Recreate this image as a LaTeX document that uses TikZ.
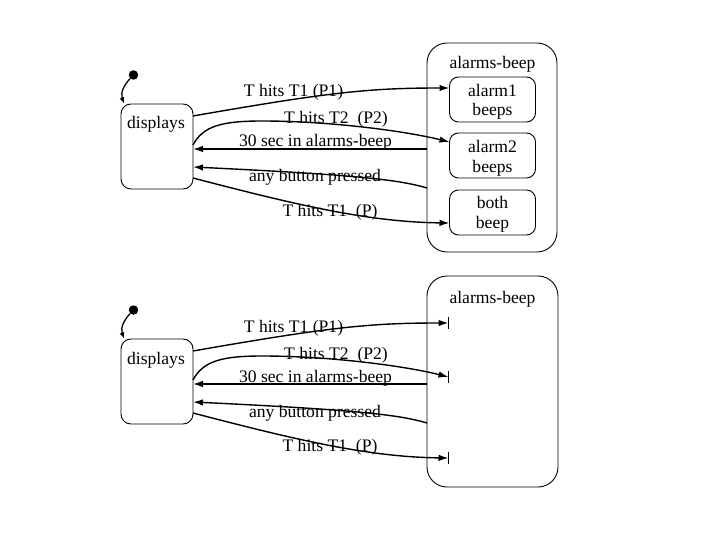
\documentclass[tikz,border=0pt]{standalone}
\usepackage{fontspec}
\setmainfont{Liberation Serif}
\usetikzlibrary{arrows.meta}
\begin{document}
\begin{tikzpicture}[x=1pt,y=-1pt,
  lbl/.style={font=\fontsize{17.6}{20}\selectfont, anchor=base, inner sep=0pt},
  sbox/.style={draw, line width=0.9pt, rounded corners=10pt, inner sep=0pt},
  obox/.style={draw, line width=0.9pt, rounded corners=20pt, inner sep=0pt},
  ibox/.style={draw, line width=0.9pt, rounded corners=9pt, inner sep=0pt, minimum width=86pt, minimum height=45pt},
  conn/.style={line width=1.4pt, -{Latex[length=10pt,width=6.5pt]}},
  stub/.style={line width=1pt},
  initarr/.style={line width=1.3pt, -{Latex[length=6pt,width=5pt]}},
  initdot/.style={circle, fill, inner sep=0pt, minimum size=9.5pt}]

\useasboundingbox (0,0) rectangle (720,540);

% ================= TOP =================
\node[sbox, minimum width=72pt, minimum height=85pt] (d1) at (157,146.5) {};
\node[lbl] (d1t) at (156,129) {displays};
\node[initdot] (i1) at (133.5,75) {};
\coordinate (i1e) at (124,103.5);
\draw[initarr] (i1) .. controls (125,84) and (120,92) .. (i1e);

\node[obox, minimum width=130pt, minimum height=209pt] (o1) at (492,147.5) {};
\node[lbl] (o1t) at (492.5,69) {alarms-beep};
\node[ibox] (a1) at (492.5,99.5) {};
\node[lbl] (a1t) at (492.5,97) {alarm1};
\node[lbl] (a1u) at (492.5,116) {beeps};
\node[ibox] (a2) at (492.5,155.5) {};
\node[lbl] (a2t) at (492.5,153) {alarm2};
\node[lbl] (a2u) at (492.5,173) {beeps};
\node[ibox] (a3) at (492.5,212.5) {};
\node[lbl] (a3t) at (492.5,208) {both};
\node[lbl] (a3u) at (492.5,229) {beep};

\coordinate (p1s) at (193,116);   \coordinate (p1e) at (449.5,88);
\coordinate (p2s) at (193,145);   \coordinate (p2m) at (262,121);  \coordinate (p2e) at (449.5,142);
\coordinate (p3s) at (427,149);   \coordinate (p3e) at (193,149);
\coordinate (p4s) at (427,188);   \coordinate (p4e) at (193,167);
\coordinate (p5s) at (193,178);   \coordinate (p5e) at (449.5,223);

\draw[conn] (p1s) .. controls (330,92) and (370,88) .. (p1e);
\draw[conn] (p2s) .. controls (203,126) and (222,121) .. (p2m) .. controls (330,121) and (405,131) .. (p2e);
\draw[conn] (p3s) -- (p3e);
\draw[conn] (p4s) .. controls (400,180) and (360,175) .. (p4e);
\draw[conn] (p5s) .. controls (300,206) and (370,222) .. (p5e);

\node[lbl] (l1) at (293.5,97) {T hits T1 (P1)};
\node[lbl] (l2) at (336,124) {T hits T2\ \ (P2)};
\node[lbl] (l3) at (315.5,147) {30 sec in alarms-beep};
\node[lbl] (l4) at (315,182) {any button pressed};
\node[lbl] (l5) at (330,216) {T hits T1\ \ (P)};

% ================= BOTTOM =================
\node[sbox, minimum width=72pt, minimum height=85pt] (d2) at (157,381.5) {};
\node[lbl] (d2t) at (156,364) {displays};
\node[initdot] (i2) at (133.5,310) {};
\coordinate (i2e) at (124,338.5);
\draw[initarr] (i2) .. controls (125,319) and (120,327) .. (i2e);

\node[obox, minimum width=131pt, minimum height=211pt] (o2) at (492.5,381.5) {};
\node[lbl] (o2t) at (492.5,303) {alarms-beep};

\coordinate (q1s) at (193,351);   \coordinate (q1e) at (448.5,323);
\coordinate (q2s) at (193,380);   \coordinate (q2m) at (262,356);  \coordinate (q2e) at (448.5,377);
\coordinate (q3s) at (427,384);   \coordinate (q3e) at (193,384);
\coordinate (q4s) at (427,423);   \coordinate (q4e) at (193,402);
\coordinate (q5s) at (193,413);   \coordinate (q5e) at (448.5,458);

\draw[conn] (q1s) .. controls (330,327) and (370,323) .. (q1e);
\draw[conn] (q2s) .. controls (203,361) and (222,356) .. (q2m) .. controls (330,356) and (405,366) .. (q2e);
\draw[conn] (q3s) -- (q3e);
\draw[conn] (q4s) .. controls (400,415) and (360,410) .. (q4e);
\draw[conn] (q5s) .. controls (300,441) and (370,457) .. (q5e);

\draw[stub] (q1e) ++(0,-6) -- ++(0,12);
\draw[stub] (q2e) ++(0,-6) -- ++(0,12);
\draw[stub] (q5e) ++(0,-6) -- ++(0,12);

\node[lbl] (m1) at (293.5,332) {T hits T1 (P1)};
\node[lbl] (m2) at (336,359) {T hits T2\ \ (P2)};
\node[lbl] (m3) at (315.5,382) {30 sec in alarms-beep};
\node[lbl] (m4) at (315,417) {any button pressed};
\node[lbl] (m5) at (330,451) {T hits T1\ \ (P)};
\end{tikzpicture}
\end{document}
